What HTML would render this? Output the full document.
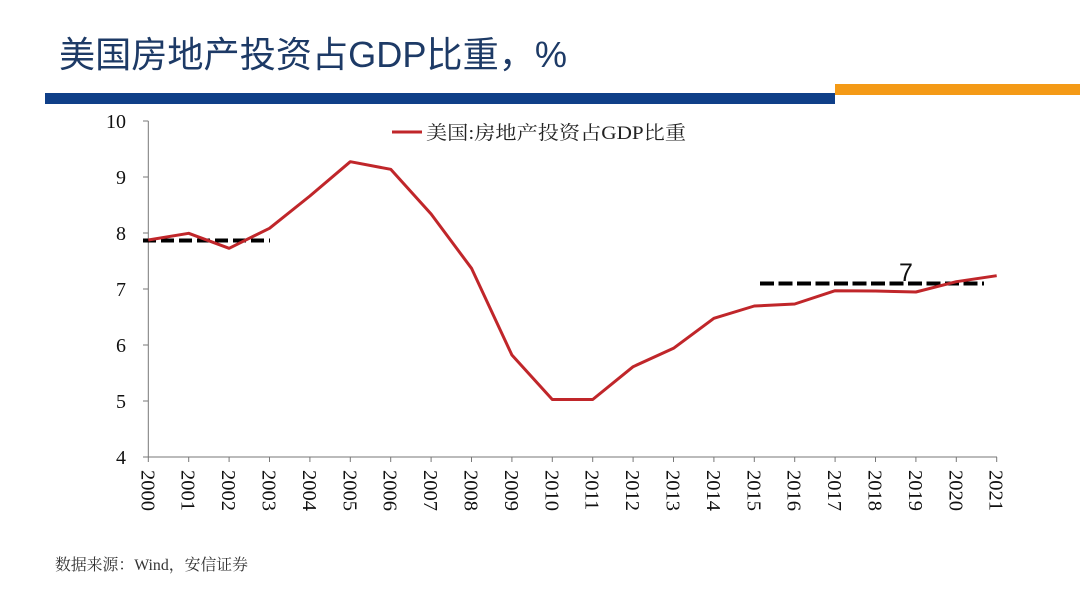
<!DOCTYPE html>
<html><head><meta charset="utf-8">
<style>
html,body{margin:0;padding:0;background:#fff;}
body{width:1080px;height:604px;overflow:hidden;position:relative;}
</style></head>
<body>
<svg width="1080" height="604" viewBox="0 0 1080 604" xmlns="http://www.w3.org/2000/svg">
<rect width="1080" height="604" fill="#fff"/>
<text x="59" y="67" font-family="'Liberation Sans','Noto Sans CJK SC',sans-serif" font-size="36" fill="#1d3a66" textLength="508" lengthAdjust="spacingAndGlyphs">美国房地产投资占GDP比重，%</text>
<rect x="45" y="93" width="790" height="11" fill="#0f3f88"/>
<rect x="835" y="84" width="245" height="11" fill="#f49a16"/>

<!-- axes -->
<g stroke="#777" stroke-width="1" fill="none">
<line x1="148.3" y1="121" x2="148.3" y2="457"/>
<line x1="143" y1="457" x2="997" y2="457"/>
<line x1="143" y1="121" x2="148.3" y2="121"/>
<line x1="143" y1="177" x2="148.3" y2="177"/>
<line x1="143" y1="233" x2="148.3" y2="233"/>
<line x1="143" y1="289" x2="148.3" y2="289"/>
<line x1="143" y1="345" x2="148.3" y2="345"/>
<line x1="143" y1="401" x2="148.3" y2="401"/>
</g>
<g stroke="#777" stroke-width="1" id="xt"></g>
<g font-family="'Liberation Serif',serif" font-size="20" fill="#111" text-anchor="end">
<text x="126" y="128">10</text>
<text x="126" y="184">9</text>
<text x="126" y="240">8</text>
<text x="126" y="296">7</text>
<text x="126" y="352">6</text>
<text x="126" y="408">5</text>
<text x="126" y="464">4</text>
</g>
<g id="xl" font-family="'Liberation Serif',serif" font-size="20.5" fill="#111"></g>

<!-- dashed reference lines -->
<line x1="143" y1="240.5" x2="270" y2="240.5" stroke="#000" stroke-width="4" stroke-dasharray="13,5"/>
<line x1="760" y1="283.5" x2="984" y2="283.5" stroke="#000" stroke-width="4" stroke-dasharray="14,4.5"/>
<text x="899" y="281" font-family="'Liberation Sans',sans-serif" font-size="25" fill="#111">7</text>

<!-- series -->
<polyline fill="none" stroke="#c0262a" stroke-width="3" stroke-linejoin="round"
points="148.3,240 188.7,233.3 229.1,248.3 269.5,228.3 309.9,196 350.3,161.7 390.7,169.3 431.1,214 471.5,268.3 511.9,355 552.3,399.5 592.7,399.5 633.1,366.7 673.5,348.3 713.9,318.3 754.3,306 794.7,304 835.1,290.7 875.5,291 915.9,292 956.3,281.7 996.7,275.7"/>

<!-- legend -->
<line x1="392" y1="132" x2="422" y2="132" stroke="#c0262a" stroke-width="3"/>
<text x="426" y="139" font-family="'Liberation Serif','Noto Serif CJK SC',serif" font-size="19" fill="#222" textLength="260" lengthAdjust="spacingAndGlyphs">美国:房地产投资占GDP比重</text>

<text x="55" y="570" font-family="'Liberation Serif','Noto Serif CJK SC',serif" font-size="16" fill="#333" textLength="193" lengthAdjust="spacingAndGlyphs">数据来源：Wind，安信证券</text>

<script>
var xt=document.getElementById('xt'),xl=document.getElementById('xl');
for(var i=0;i<=21;i++){
 var x=148.3+40.4*i;
 var l=document.createElementNS('http://www.w3.org/2000/svg','line');
 l.setAttribute('x1',x);l.setAttribute('x2',x);l.setAttribute('y1',457);l.setAttribute('y2',462);
 xt.appendChild(l);
 var t=document.createElementNS('http://www.w3.org/2000/svg','text');
 t.setAttribute('transform','translate('+(x-7)+',470) rotate(90)');
 t.textContent=String(2000+i);
 xl.appendChild(t);
}
</script>
</svg>
</body></html>
